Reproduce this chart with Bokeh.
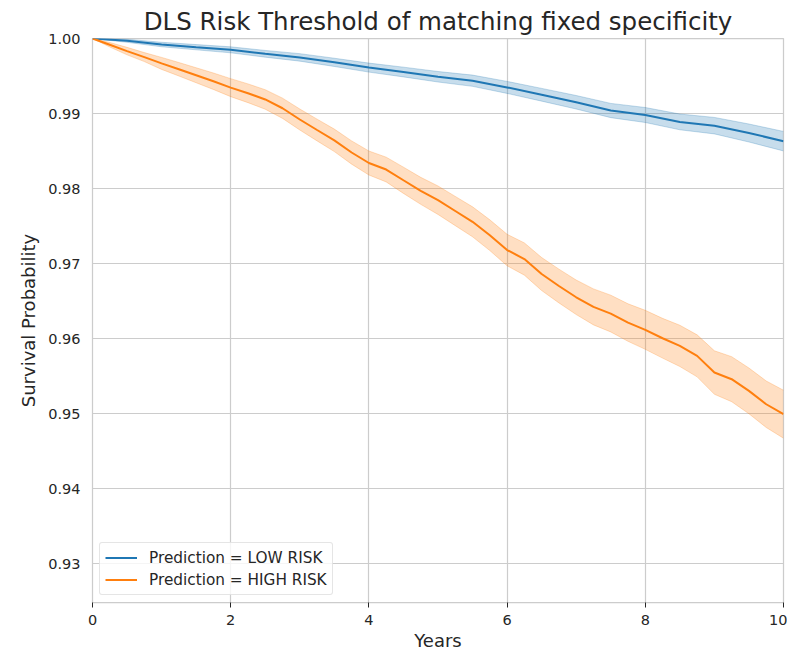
from bokeh.plotting import figure
from bokeh.models import Legend, LegendItem, FixedTicker, Range1d, PrintfTickFormatter
from bokeh.embed import file_html
from bokeh.resources import INLINE

# ---- data ----
years_low = [0, 0.5, 1, 1.5, 2, 2.5, 3, 3.5, 4, 4.5, 5, 5.5, 6, 6.5, 7, 7.5, 8, 8.5, 9, 9.5, 10]
low_risk = [1.0, 0.99969, 0.99920, 0.99884, 0.99849, 0.99796, 0.99748, 0.99682, 0.99612, 0.99553,
            0.99490, 0.99437, 0.99348, 0.99250, 0.99150, 0.99040, 0.98980, 0.98888, 0.98838,
            0.98740, 0.98631]
low_ci = [0.0, 0.0002, 0.0003, 0.00035, 0.0004, 0.00045, 0.0005, 0.00055, 0.0006, 0.00065,
          0.0007, 0.00075, 0.0008, 0.00085, 0.0009, 0.00095, 0.0010, 0.00105, 0.0011, 0.0012, 0.0013]

years_high = [0, 0.25, 0.5, 0.75, 1, 1.25, 1.5, 1.75, 2, 2.25, 2.5, 2.75, 3, 3.25, 3.5, 3.75,
              4, 4.25, 4.5, 4.75, 5, 5.25, 5.5, 5.75, 6, 6.25, 6.5, 6.75, 7, 7.25, 7.5, 7.75,
              8, 8.25, 8.5, 8.75, 9, 9.25, 9.5, 9.75, 10]
high_risk = [1.0, 0.99917, 0.99832, 0.99752, 0.99668, 0.99590, 0.99510, 0.99430, 0.99345,
             0.99270, 0.99187, 0.99070, 0.98920, 0.98780, 0.98642, 0.98480, 0.98340, 0.98253,
             0.98110, 0.97969, 0.97844, 0.97700, 0.97556, 0.97378, 0.97180, 0.97060, 0.96860,
             0.96700, 0.96550, 0.96422, 0.96333, 0.96213, 0.96116, 0.96004, 0.95902, 0.95769,
             0.95547, 0.95458, 0.95302, 0.95124, 0.94991]
high_ci = [0.0, 0.0003, 0.0005, 0.0006, 0.0008, 0.0009, 0.0010, 0.0011, 0.0012, 0.00125,
           0.0013, 0.00135, 0.0014, 0.00145, 0.0015, 0.00155, 0.0016, 0.00165, 0.00175, 0.0018,
           0.0019, 0.00195, 0.0020, 0.00205, 0.0021, 0.00215, 0.0022, 0.00225, 0.0023, 0.0024,
           0.00245, 0.0025, 0.0026, 0.00265, 0.00275, 0.0028, 0.0029, 0.0030, 0.00305, 0.0031, 0.0032]

series_labels = ["Prediction = LOW RISK", "Prediction = HIGH RISK"]
x_ticks = [0, 2, 4, 6, 8, 10]
y_ticks = [0.93, 0.94, 0.95, 0.96, 0.97, 0.98, 0.99, 1.00]

BLUE = "#1f77b4"
ORANGE = "#ff7f0e"
TXT = "#262626"
GRID = "#cccccc"
FONT = "DejaVu Sans"

p = figure(frame_width=691, frame_height=564, output_backend="svg", toolbar_location=None,
           x_range=Range1d(0, 10), y_range=Range1d(0.92481, 1.0),
           min_border_left=92, min_border_right=4, min_border_top=38, min_border_bottom=46,
           background_fill_color="white", border_fill_color="white")

p.title.text = "DLS Risk Threshold of matching fixed specificity"
p.title.align = "center"
p.title.text_font = FONT
p.title.text_font_size = "24.5px"
p.title.text_font_style = "normal"
p.title.text_color = TXT
p.title.standoff = 6

p.outline_line_color = GRID
p.outline_line_width = 1.25

for ax in (p.xaxis, p.yaxis):
    ax.axis_line_color = None
    ax.minor_tick_line_color = None
    ax.major_label_text_font = FONT
    ax.major_label_text_font_size = "14.5px"
    ax.major_label_text_color = TXT
    ax.axis_label_text_font = FONT
    ax.axis_label_text_font_size = "18px"
    ax.axis_label_text_font_style = "normal"
    ax.axis_label_text_color = TXT

p.xaxis.axis_label = "Years"
p.yaxis.axis_label = "Survival Probability"
p.xaxis.ticker = FixedTicker(ticks=x_ticks)
p.yaxis.ticker = FixedTicker(ticks=y_ticks)
p.yaxis.formatter = PrintfTickFormatter(format="%.2f")
p.xaxis.major_tick_line_color = TXT
p.xaxis.major_tick_out = 5
p.xaxis.major_tick_in = 0
p.xaxis.major_label_standoff = 7
p.xaxis.axis_label_standoff = 2
p.yaxis.major_tick_line_color = None
p.yaxis.major_tick_out = 0
p.yaxis.major_tick_in = 0
p.yaxis.major_label_standoff = 12
p.yaxis.axis_label_standoff = 6

p.xgrid.grid_line_color = GRID
p.ygrid.grid_line_color = GRID
p.xgrid.grid_line_width = 1.2
p.ygrid.grid_line_width = 1.2

items = []
for xs, vals, ci, col, lab in [(years_low, low_risk, low_ci, BLUE, series_labels[0]),
                               (years_high, high_risk, high_ci, ORANGE, series_labels[1])]:
    lo = [v - c for v, c in zip(vals, ci)]
    hi = [v + c for v, c in zip(vals, ci)]
    p.varea(x=xs, y1=lo, y2=hi, fill_color=col, fill_alpha=0.25)
    p.line(x=xs, y=lo, line_color=col, line_alpha=0.25, line_width=1)
    p.line(x=xs, y=hi, line_color=col, line_alpha=0.25, line_width=1)
    r = p.line(x=xs, y=vals, line_color=col, line_width=2)
    items.append(LegendItem(label=lab, renderers=[r]))

legend = Legend(items=items, location="bottom_left", margin=7,
                label_text_font=FONT, label_text_font_size="15.3px", label_text_color=TXT,
                glyph_width=32, glyph_height=19, label_height=19, label_standoff=12,
                padding=5, spacing=3,
                border_line_color=GRID, border_line_width=1, border_radius=3,
                background_fill_color="white", background_fill_alpha=0.8)
p.add_layout(legend)

open("out.html", "w").write(file_html(p, INLINE))
